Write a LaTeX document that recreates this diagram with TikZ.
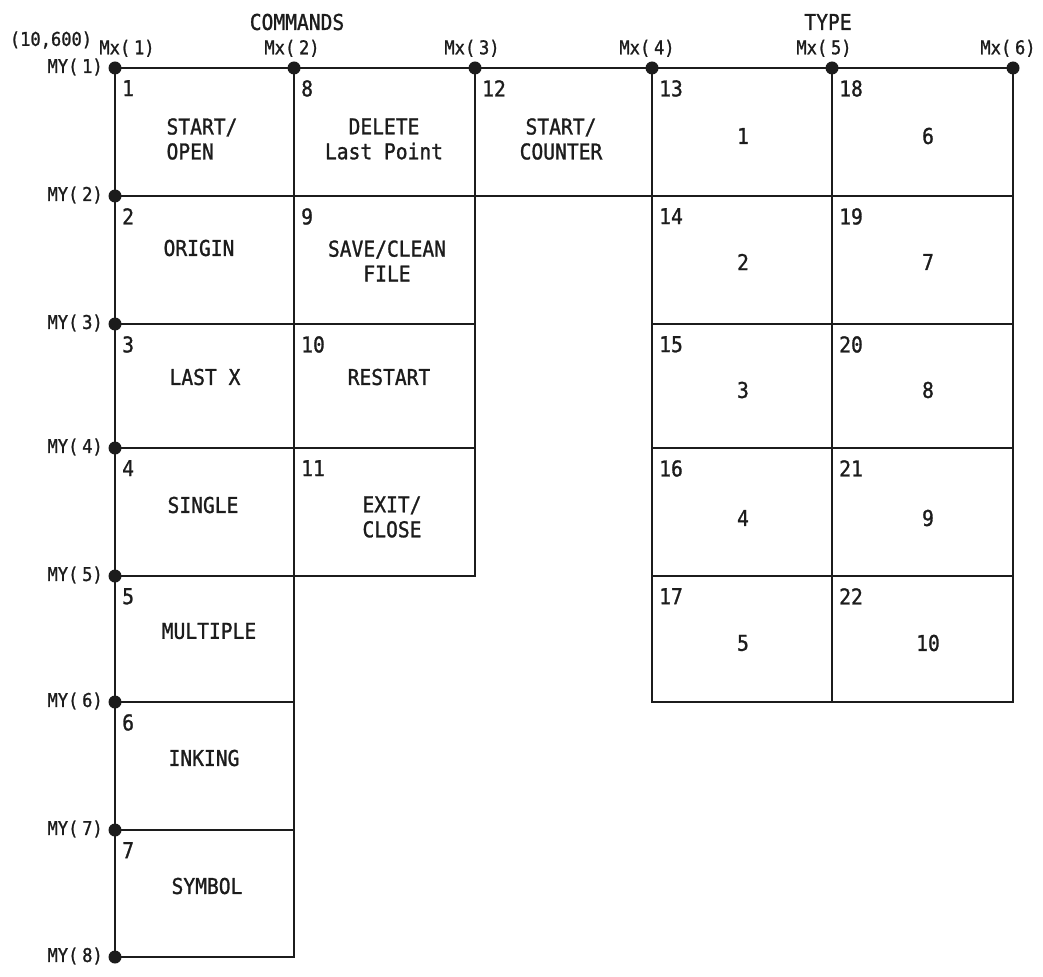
\documentclass[tikz,border=0pt]{standalone}
\usepackage{fontspec}
\usepackage{tikz}
\newfontfamily\plotfont{DejaVu Sans Mono}[FakeStretch=0.9, FakeBold=1.2]
\definecolor{ink}{HTML}{1C1C1C}
\newcommand{\cellfont}{\plotfont\fontsize{12.4}{14.2}\selectfont}
\newcommand{\tagfont}{\plotfont\fontsize{10.8}{12}\selectfont}

\begin{document}
\begin{tikzpicture}[x=0.02cm, y=-0.02cm, line width=1.4pt, draw=ink, text=ink,
  cell/.style={font=\cellfont, align=center, inner sep=0pt},
  num/.style={font=\cellfont, anchor=north west, inner sep=0pt},
  tag/.style={font=\tagfont, inner sep=0pt},
  pin/.style={circle, fill=ink, inner sep=0pt, minimum size=7.4pt}]
\useasboundingbox (0,0) rectangle (1043,976);
% command cells
\foreach \ya/\yb in {68/196,196/324,324/448,448/576,576/702,702/830,830/957}
  \draw (115,\ya) rectangle (294,\yb);
\foreach \ya/\yb in {68/196,196/324,324/448,448/576}
  \draw (294,\ya) rectangle (475,\yb);
\draw (475,68) rectangle (652,196);
% type cells
\foreach \xa/\xb in {652/832,832/1013}
  \foreach \ya/\yb in {68/196,196/324,324/448,448/576,576/702}
    \draw (\xa,\ya) rectangle (\xb,\yb);
% cell numbers
\foreach \n/\y in {1/68,2/196,3/324,4/448,5/576,6/702,7/830}
  \node[num] (n\n) at (121,\y+11) {\n};
\foreach \n/\y in {8/68,9/196,10/324,11/448}
  \node[num] (n\n) at (300,\y+11) {\n};
\node[num] (n12) at (481,79) {12};
\foreach \n/\y in {13/68,14/196,15/324,16/448,17/576}
  \node[num] (n\n) at (658,\y+11) {\n};
\foreach \n/\y in {18/68,19/196,20/324,21/448,22/576}
  \node[num] (n\n) at (838,\y+11) {\n};
% cell texts
\node[cell, align=left] (open) at (202,139) {START/\\OPEN};
\node[cell] (origin) at (199,248) {ORIGIN};
\node[cell] (lastx) at (205,377) {LAST X};
\node[cell] (single) at (203,505) {SINGLE};
\node[cell] (multiple) at (209,631) {MULTIPLE};
\node[cell] (inking) at (204,758) {INKING};
\node[cell] (symbol) at (207,886) {SYMBOL};
\node[cell] (delete) at (384,139) {DELETE\\Last Point};
\node[cell] (save) at (387,261) {SAVE/CLEAN\\FILE};
\node[cell] (restart) at (389,377) {RESTART};
\node[cell, align=left] (exit) at (392,517) {EXIT/\\CLOSE};
\node[cell] (counter) at (561,139) {START/\\COUNTER};
\foreach \t/\y in {1/136,2/262,3/390,4/518,5/643}
  \node[cell] (ta\t) at (743,\y) {\t};
\foreach \t/\y in {6/136,7/262,8/390,9/518,10/643}
  \node[cell] (tb\t) at (928,\y) {\t};
% headings
\node[cell] (commands) at (297,22) {COMMANDS};
\node[cell] (type) at (828,22) {TYPE};
\node[tag] (origo) at (51,40) {(10,600)};
% marker points
\foreach \i/\y in {1/68,2/196,3/324,4/448,5/576,6/702,7/830,8/957} {
  \node[pin] (my\i) at (115,\y) {};
  \node[tag, anchor=east] (myl\i) at (104,\y-1) {MY(\hspace{0.2em}\i)};
}
\foreach \i/\x in {2/294,3/475,4/652,5/832,6/1013}
  \node[pin] (mx\i) at (\x,68) {};
\foreach \i/\x in {1/127,2/292,3/472,4/647,5/824,6/1008}
  \node[tag, anchor=south] (mxl\i) at (\x,58) {Mx(\hspace{0.2em}\i)};
\end{tikzpicture}
\end{document}
